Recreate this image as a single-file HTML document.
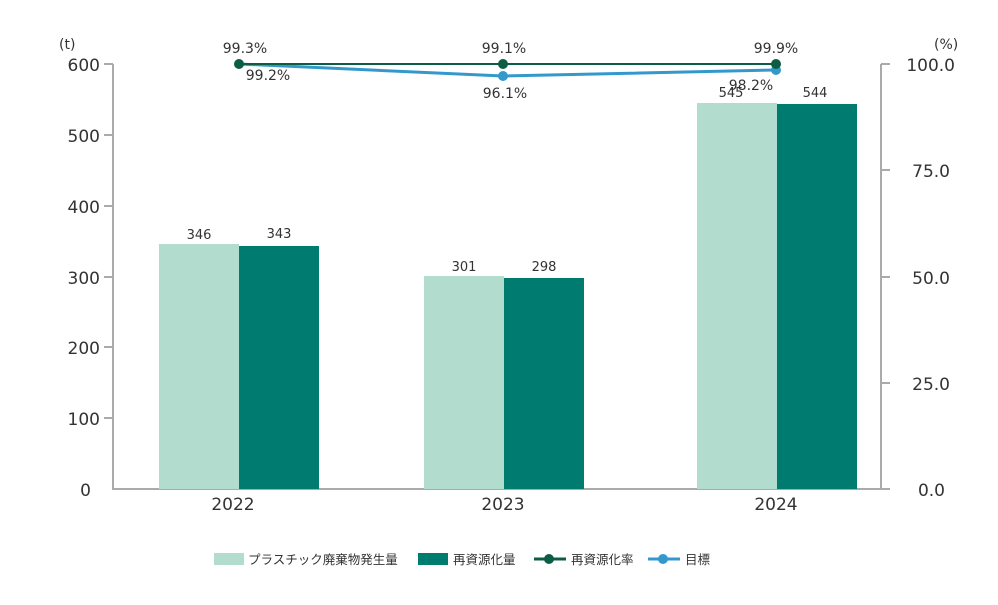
<!DOCTYPE html>
<html><head><meta charset="utf-8"><style>
body{margin:0;background:#fff}
svg text{font-family:"DejaVu Sans","Noto Sans CJK JP",sans-serif;fill:#333}
</style></head><body>
<svg width="998" height="600" xmlns="http://www.w3.org/2000/svg">
<g stroke="#aaa" stroke-width="2" fill="none">
<line x1="113" y1="64" x2="113" y2="490"/>
<line x1="881" y1="64" x2="881" y2="490"/>
<line x1="113" y1="489" x2="881" y2="489"/>
<line x1="104" y1="64" x2="113" y2="64"/><line x1="104" y1="135" x2="113" y2="135"/><line x1="104" y1="206" x2="113" y2="206"/><line x1="104" y1="277" x2="113" y2="277"/><line x1="104" y1="347" x2="113" y2="347"/><line x1="104" y1="418" x2="113" y2="418"/>
<line x1="881" y1="64" x2="890" y2="64"/><line x1="881" y1="170" x2="890" y2="170"/><line x1="881" y1="277" x2="890" y2="277"/><line x1="881" y1="383" x2="890" y2="383"/><line x1="881" y1="489" x2="890" y2="489"/>
</g>
<g font-size="17" text-anchor="end">
<text x="100" y="71">600</text><text x="100" y="142">500</text><text x="100" y="213">400</text><text x="100" y="284">300</text><text x="100" y="354">200</text><text x="100" y="425">100</text><text x="91" y="496">0</text>
</g>
<g font-size="17" text-anchor="end">
<text x="955" y="71">100.0</text><text x="950" y="177">75.0</text><text x="950" y="284">50.0</text><text x="950" y="390">25.0</text><text x="945" y="496">0.0</text>
</g>
<text x="59" y="49" font-size="14">(t)</text>
<text x="934" y="49" font-size="14">(%)</text>
<g>
<rect x="159" y="244" width="80" height="245" fill="#b2dccd"/>
<rect x="239" y="246" width="80" height="243" fill="#007b70"/>
<rect x="424" y="276" width="80" height="213" fill="#b2dccd"/>
<rect x="504" y="278" width="80" height="211" fill="#007b70"/>
<rect x="697" y="103" width="80" height="386" fill="#b2dccd"/>
<rect x="777" y="104" width="80" height="385" fill="#007b70"/>
</g>
<g font-size="13" text-anchor="middle">
<text x="199" y="239">346</text><text x="279" y="238">343</text>
<text x="464" y="271">301</text><text x="544" y="271">298</text>
<text x="731" y="97">545</text><text x="815" y="97">544</text>
</g>
<g font-size="14" text-anchor="middle">
<text x="245" y="53">99.3%</text><text x="268" y="80">99.2%</text>
<text x="504" y="53">99.1%</text><text x="505" y="98">96.1%</text>
<text x="776" y="53">99.9%</text><text x="751" y="90">98.2%</text>
</g>
<g font-size="17" text-anchor="middle">
<text x="233" y="510">2022</text><text x="503" y="510">2023</text><text x="776" y="510">2024</text>
</g>
<polyline points="239,64 503,76 776,70" fill="none" stroke="#3399cc" stroke-width="3"/>
<circle cx="503" cy="76" r="5" fill="#3399cc"/><circle cx="776" cy="70" r="5" fill="#3399cc"/>
<polyline points="239,64 503,64 776,64" fill="none" stroke="#0d5c45" stroke-width="2"/>
<circle cx="239" cy="64" r="5" fill="#0d5c45"/><circle cx="503" cy="64" r="5" fill="#0d5c45"/><circle cx="776" cy="64" r="5" fill="#0d5c45"/>
<rect x="214" y="553" width="30" height="12" fill="#b2dccd"/>
<text x="248" y="564" font-size="12.5">プラスチック廃棄物発生量</text>
<rect x="418" y="553" width="30" height="12" fill="#007b70"/>
<text x="453" y="564" font-size="12.5">再資源化量</text>
<line x1="534" y1="559" x2="566" y2="559" stroke="#0d5c45" stroke-width="3"/><circle cx="549" cy="559" r="5" fill="#0d5c45"/>
<text x="571" y="564" font-size="12.5">再資源化率</text>
<line x1="648" y1="559" x2="680" y2="559" stroke="#3399cc" stroke-width="3"/><circle cx="663" cy="559" r="5" fill="#3399cc"/>
<text x="685" y="564" font-size="12.5">目標</text>
</svg>
</body></html>
